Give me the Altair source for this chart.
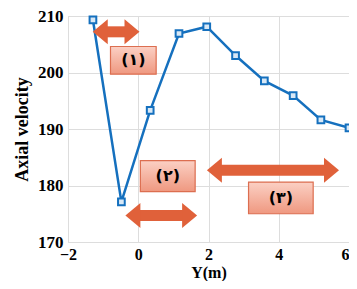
import altair as alt
import pandas as pd

# Data series
ys = [-1.29, -0.48, 0.34, 1.16, 1.95, 2.77, 3.59, 4.41, 5.20, 6.00]
vel = [209.3, 177.1, 193.3, 206.9, 208.1, 203.0, 198.5, 195.9, 191.6, 190.2]

x_ticks = [-2, 0, 2, 4, 6]
y_ticks = [170, 180, 190, 200, 210]

# Annotation boxes (data coords)
box_labels = ["(۱)", "(۲)", "(۳)"]
box_x1 = [-0.79, 0.06, 3.14]
box_x2 = [0.51, 1.62, 4.98]
box_y1 = [199.7, 178.9, 175.0]
box_y2 = [204.6, 184.4, 180.6]

# Double arrows (head centers, data coords)
arr_x1 = [-0.94, -0.01, 2.31]
arr_x2 = [-0.32, 1.32, 5.36]
arr_y = [207.2, 174.7, 182.7]

df = pd.DataFrame({"y": ys, "v": vel})
boxes = pd.DataFrame({"lab": box_labels, "x1": box_x1, "x2": box_x2, "y1": box_y1, "y2": box_y2})
boxes["xc"] = (boxes.x1 + boxes.x2) / 2
boxes["yc"] = (boxes.y1 + boxes.y2) / 2
arrows = pd.DataFrame({"x1": arr_x1, "x2": arr_x2, "y": arr_y})

FONT = "Liberation Serif"
ORANGE = "#E0613A"
BLUE = "#1570BE"

xs = alt.Scale(domain=[-2, 6], nice=False, zero=False)
yscale = alt.Scale(domain=[170, 210], nice=False, zero=False)

xax = alt.Axis(values=x_ticks, title="Y(m)", grid=True, ticks=False, labelPadding=4,
               labelFont=FONT, labelFontWeight="bold", labelFontSize=16, labelColor="black",
               labelAlign={"expr": "datum.value == 6 ? 'right' : 'center'"},
               titleFont=FONT, titleFontWeight="bold", titleFontSize=16, titleColor="black",
               titlePadding=2, gridColor="#dddddd", domain=False, labelFlush=False)
yax = alt.Axis(values=y_ticks, title="Axial velocity", grid=True, ticks=False, labelPadding=5,
               labelFont=FONT, labelFontWeight="bold", labelFontSize=17, labelColor="black",
               titleFont=FONT, titleFontWeight="bold", titleFontSize=18, titleColor="black",
               titlePadding=6, gridColor="#dddddd", domain=False, labelFlush=False)

line = alt.Chart(df).mark_line(color=BLUE, strokeWidth=2.5).encode(
    x=alt.X("y:Q", scale=xs, axis=xax),
    y=alt.Y("v:Q", scale=yscale, axis=yax),
)
pts = alt.Chart(df).mark_point(shape="square", filled=True, fill="#d8e8f6", stroke=BLUE,
                               strokeWidth=2, size=45, opacity=1).encode(
    x=alt.X("y:Q", scale=xs), y=alt.Y("v:Q", scale=yscale))

shaft = alt.Chart(arrows).mark_rule(color=ORANGE, strokeWidth=11).encode(
    x=alt.X("x1:Q", scale=xs), x2="x2:Q", y=alt.Y("y:Q", scale=yscale))
headl = alt.Chart(arrows).mark_point(shape="M-1,0L0.2,-1L0.2,1Z", filled=True, color=ORANGE,
                                     size=625, opacity=1).encode(
    x=alt.X("x1:Q", scale=xs), y=alt.Y("y:Q", scale=yscale))
headr = alt.Chart(arrows).mark_point(shape="M1,0L-0.2,-1L-0.2,1Z", filled=True, color=ORANGE,
                                     size=625, opacity=1).encode(
    x=alt.X("x2:Q", scale=xs), y=alt.Y("y:Q", scale=yscale))

grad = alt.Gradient(gradient="linear",
                    stops=[alt.GradientStop(color="#FBD0C4", offset=0),
                           alt.GradientStop(color="#EF9880", offset=1)],
                    x1=0, x2=0, y1=0, y2=1)
rects = alt.Chart(boxes).mark_rect(fill=grad, stroke="#DC6E50", strokeWidth=1.2).encode(
    x=alt.X("x1:Q", scale=xs), x2="x2:Q", y=alt.Y("y1:Q", scale=yscale), y2="y2:Q")
texts = alt.Chart(boxes).mark_text(font="DejaVu Sans", fontWeight="bold", fontSize=16,
                                   color="black").encode(
    x=alt.X("xc:Q", scale=xs), y=alt.Y("yc:Q", scale=yscale), text="lab:N")

chart = alt.layer(line, pts, shaft, headl, headr, rects, texts).properties(
    width=281, height=226,
    autosize=alt.AutoSizeParams(type="none"),
    padding={"left": 60, "top": 8, "right": 0, "bottom": 39},
).configure_view(stroke="#555555", strokeWidth=1.5).configure(background="white")

chart.save("out.html", embed_options={"renderer": "svg", "actions": False})
